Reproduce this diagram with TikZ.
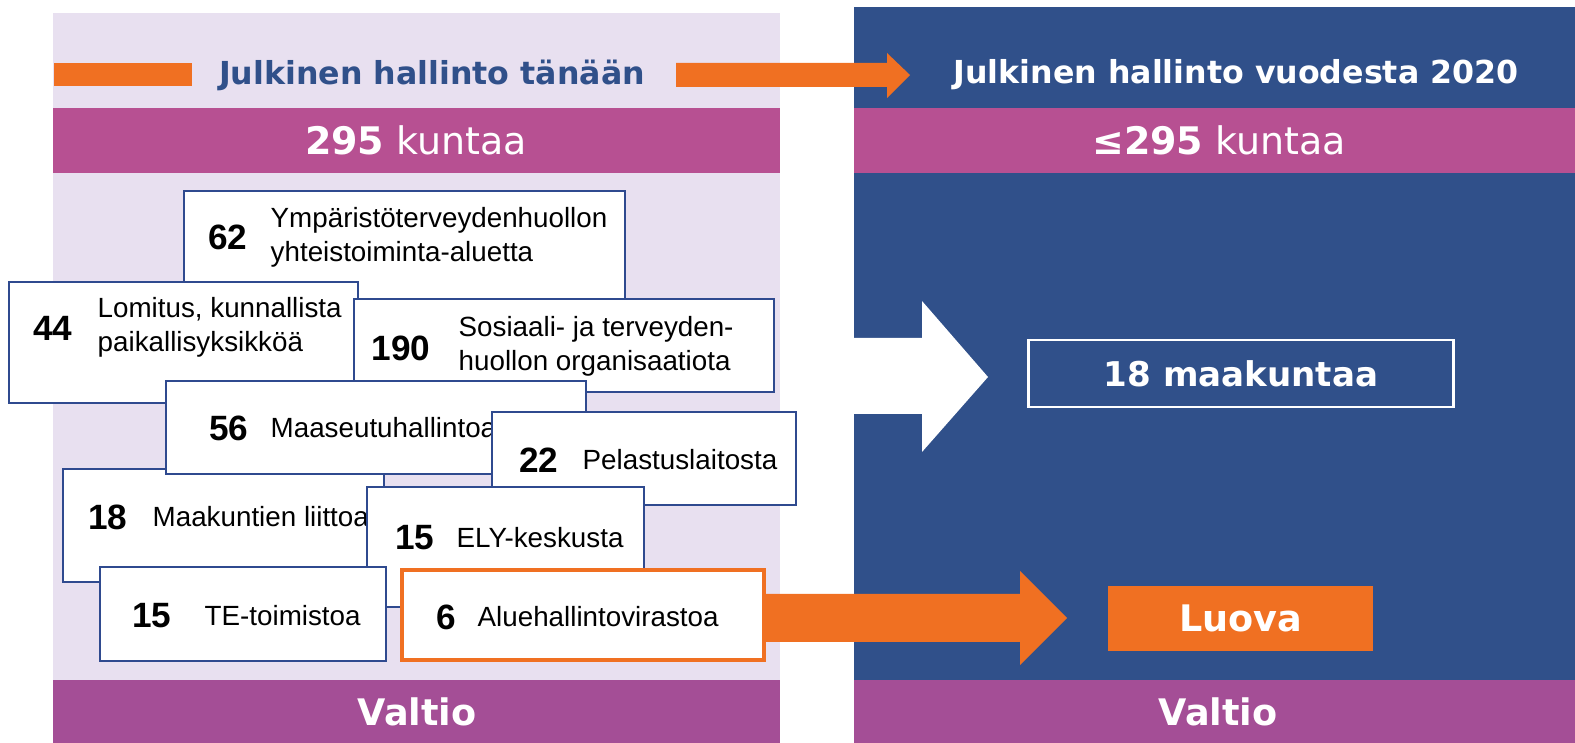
\documentclass[tikz,border=0pt]{standalone}
\usepackage{fontspec}
\setmainfont{Liberation Sans}
\newfontfamily\headfont{DejaVu Sans}
\usepackage{xcolor}
\usepackage{tikz}
\definecolor{lavender}{HTML}{E8E0F0}
\definecolor{kuntapink}{HTML}{B75092}
\definecolor{valtiopurple}{HTML}{A44E96}
\definecolor{navy}{HTML}{30508A}
\definecolor{boxblue}{HTML}{2F4A8F}
\definecolor{luovaorange}{HTML}{F07022}
\tikzset{>=latex,
    orgbox/.style={draw=boxblue, fill=white, line width=0.6pt, inner sep=0pt},
    num/.style={font=\fontsize{10}{12}\selectfont\bfseries, inner sep=0pt},
    lbl/.style={font=\fontsize{7.9}{9.7}\selectfont, align=left, anchor=west, inner sep=0pt}}

\begin{document}
\begin{tikzpicture}[x=0.01cm, y=-0.01cm,
      head/.style={font=\headfont\bfseries\fontsize{9}{11}\selectfont, inner sep=0pt},
      band/.style={font=\headfont\fontsize{10.8}{13}\selectfont, text=white, inner sep=0pt},
      valtio/.style={font=\headfont\bfseries\fontsize{10.4}{12}\selectfont, text=white, inner sep=0pt}]
  \useasboundingbox (0,0) rectangle (1575,743);
  \fill[white] (0,0) rectangle (1575,743);
  % Panels
  \fill[lavender] (53,13) rectangle (780,743);
  \fill[navy] (854,7) rectangle (1575,743);
  \fill[kuntapink] (53,108) rectangle (780,173);
  \fill[kuntapink] (854,108) rectangle (1575,173);
  \fill[valtiopurple] (53,680) rectangle (780,743);
  \fill[valtiopurple] (854,680) rectangle (1575,743);
  % Headings
  \fill[luovaorange] (54,63) rectangle (192,86);
  \node[head, text=navy] (today) at (432,75) {Julkinen hallinto tänään};
  \fill[luovaorange] (676,63) -- (887,63) -- (887,53) -- (910,75)
    -- (887,98) -- (887,87) -- (676,87) -- cycle;
  \node[head, text=white] (future) at (1236,75) {Julkinen hallinto vuodesta 2020};
  \node[band] (kunta1) at (416,140) {\textbf{295} kuntaa};
  \node[band] (kunta2) at (1219,140) {\textbf{≤295} kuntaa};
  \node[valtio] (valtio1) at (417,712) {Valtio};
  \node[valtio] (valtio2) at (1218,712) {Valtio};
  % Organisations today
  \node[orgbox, minimum width=4.41cm, minimum height=1.08cm] (b62) at (404.5,245) {};
  \node[num] (n62) at (228,237) {62};
  \node[lbl] (t62) at (270,237) {Ympäristöterveydenhuollon\\yhteistoiminta-aluetta};
  \node[orgbox, minimum width=3.49cm, minimum height=1.21cm] (b44) at (183.5,342.5) {};
  \node[num] (n44) at (53,328) {44};
  \node[lbl] (t44) at (97,327) {Lomitus, kunnallista\\paikallisyksikköä};
  \node[orgbox, minimum width=4.20cm, minimum height=0.93cm] (b190) at (564,345.5) {};
  \node[num] (n190) at (401,348) {190};
  \node[lbl] (t190) at (458,346) {Sosiaali- ja terveyden-\\huollon organisaatiota};
  \node[orgbox, minimum width=3.21cm, minimum height=1.13cm] (b18) at (223.5,525.5) {};
  \node[num] (n18) at (108,517) {18};
  \node[lbl] (t18) at (152,517) {Maakuntien liittoa};
  \node[orgbox, minimum width=4.20cm, minimum height=0.93cm] (b56) at (376,427.5) {};
  \node[num] (n56) at (229,428) {56};
  \node[lbl] (t56) at (270,428) {Maaseutuhallintoa};
  \node[orgbox, minimum width=3.04cm, minimum height=0.93cm] (b22) at (644,458.5) {};
  \node[num] (n22) at (539,460) {22};
  \node[lbl] (t22) at (582,460) {Pelastuslaitosta};
  \node[orgbox, minimum width=2.77cm, minimum height=1.20cm] (bely) at (505.5,547) {};
  \node[num] (nely) at (415,538) {15};
  \node[lbl] (tely) at (456,538) {ELY-keskusta};
  \node[orgbox, minimum width=2.86cm, minimum height=0.94cm] (bte) at (243,614) {};
  \node[num] (nte) at (152,616) {15};
  \node[lbl] (tte) at (204,616) {TE-toimistoa};
  \node[orgbox, draw=luovaorange, line width=1.1pt,
        minimum width=3.62cm, minimum height=0.90cm] (b6) at (583,615) {};
  \node[num] (n6) at (446,617) {6};
  \node[lbl] (t6) at (477,617) {Aluehallintovirastoa};
  % Block arrows
  \fill[white] (840,338) -- (922,338) -- (922,301) -- (988,377)
    -- (922,452) -- (922,414) -- (840,414) -- cycle;
  \fill[luovaorange] (b6.east|-0,594) -- (1020,594) -- (1020,571) -- (1067,618)
    -- (1020,665) -- (1020,642) -- (b6.east|-0,642) -- cycle;
  % Organisations from 2020
  \node[draw=white, line width=0.7pt, minimum width=4.25cm, minimum height=0.67cm,
        font=\headfont\bfseries\fontsize{9.7}{12}\selectfont, text=white] (maak) at (1241,373.5) {18 maakuntaa};
  \node[fill=luovaorange, minimum width=2.64cm, minimum height=0.65cm,
        font=\headfont\bfseries\fontsize{10.4}{12}\selectfont, text=white] (luova) at (1240.5,618.5) {Luova};
\end{tikzpicture}
\end{document}
